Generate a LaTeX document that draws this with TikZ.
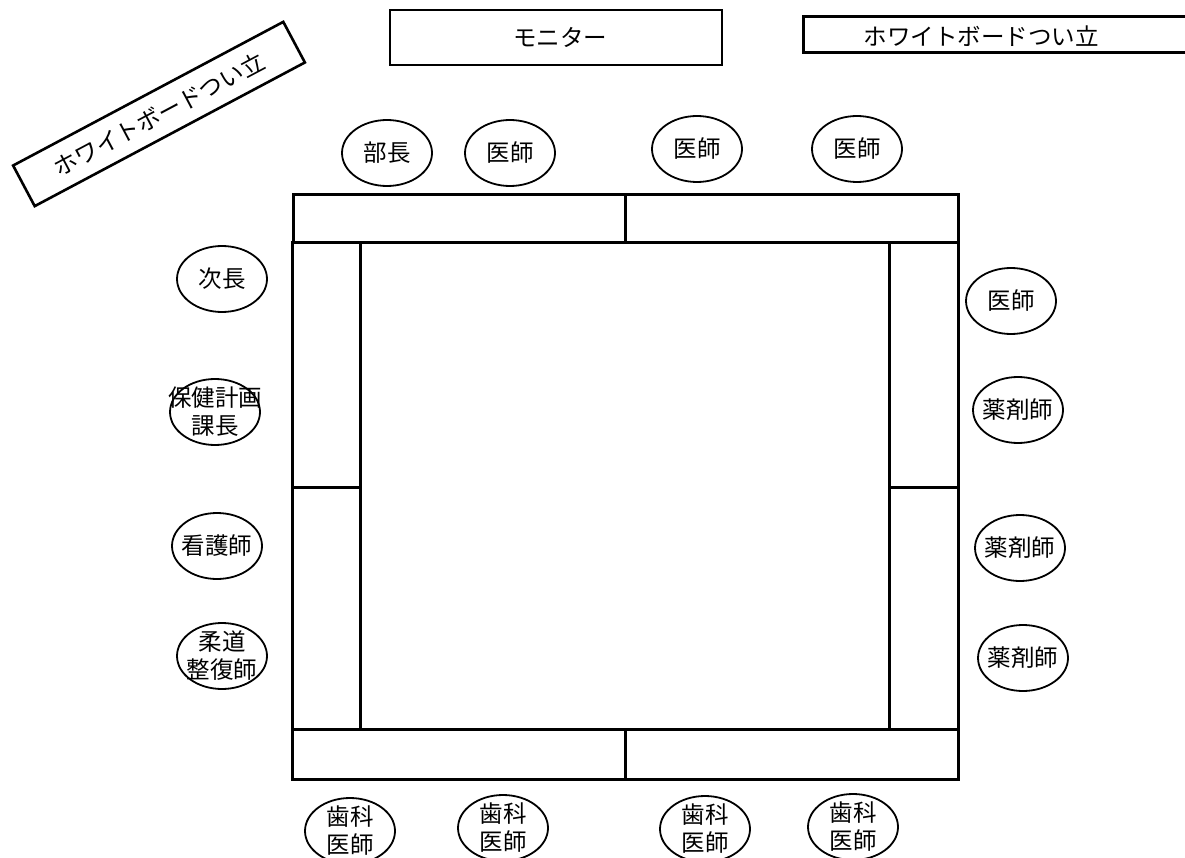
\documentclass[tikz,border=0pt]{standalone}
\usepackage{fontspec}
\newfontfamily\jp{Noto Sans CJK JP}
\usetikzlibrary{shapes.geometric}
\begin{document}
\begin{tikzpicture}[x=1pt,y=-1pt,
  seat/.style={draw, ellipse, line width=1.8pt, minimum width=90pt, minimum height=66pt, inner sep=0pt},
  lbl/.style={font=\jp\fontsize{23.5}{28}\selectfont, align=center, inner sep=0pt},
  desk/.style={draw, line width=3pt},
  board/.style={draw, line width=2.6pt, inner sep=0pt, font=\jp\fontsize{23.5}{28}\selectfont}]
\useasboundingbox (0,0) rectangle (1185,858);
% boards
\node[board, rotate=28, minimum width=306pt, minimum height=46pt] (wb1) at (159,114) {ホワイトボードつい立};
\node[board, minimum width=332pt, minimum height=55pt] (mon) at (556,37.5) {};
\node[lbl] (monl) at (560,37.5) {モニター};
\draw[line width=3pt] (1195,17) -- (803,17) -- (803,53) -- (1195,53);
\node[lbl] (wb2) at (981,36) {ホワイトボードつい立};
% desks
\draw[desk] (293,195) rectangle (625,243);
\draw[desk] (625,195) rectangle (958,243);
\draw[desk] (292,243) rectangle (360,487);
\draw[desk] (292,487) rectangle (360,729);
\draw[desk] (889,243) rectangle (958,487);
\draw[desk] (889,487) rectangle (958,729);
\draw[desk] (292,729) rectangle (625,779);
\draw[desk] (625,729) rectangle (958,779);
% top seats
\node[seat] (t1) at (387,153) {}; \node[lbl] (lt1) at (t1) {部長};
\node[seat] (t2) at (510,153) {}; \node[lbl] (lt2) at (t2) {医師};
\node[seat] (t3) at (697,149) {}; \node[lbl] (lt3) at (t3) {医師};
\node[seat] (t4) at (857,149) {}; \node[lbl] (lt4) at (t4) {医師};
% left seats
\node[seat] (l1) at (222,279) {}; \node[lbl] (ll1) at (l1) {次長};
\node[seat] (l2) at (215,412) {}; \node[lbl] (ll2) at (l2) {保健計画\\課長};
\node[seat] (l3) at (217,546) {}; \node[lbl] (ll3) at (l3) {看護師};
\node[seat] (l4) at (222,656) {}; \node[lbl] (ll4) at (l4) {柔道\\整復師};
% right seats
\node[seat] (r1) at (1011,301) {}; \node[lbl] (lr1) at (r1) {医師};
\node[seat] (r2) at (1018,410) {}; \node[lbl] (lr2) at (r2) {薬剤師};
\node[seat] (r3) at (1020,548) {}; \node[lbl] (lr3) at (r3) {薬剤師};
\node[seat] (r4) at (1023,658) {}; \node[lbl] (lr4) at (r4) {薬剤師};
% bottom seats
\node[seat] (b1) at (350,831) {}; \node[lbl] (lb1) at (b1) {歯科\\医師};
\node[seat] (b2) at (503,828) {}; \node[lbl] (lb2) at (b2) {歯科\\医師};
\node[seat] (b3) at (705,829) {}; \node[lbl] (lb3) at (b3) {歯科\\医師};
\node[seat] (b4) at (853,827) {}; \node[lbl] (lb4) at (b4) {歯科\\医師};
\end{tikzpicture}
\end{document}
